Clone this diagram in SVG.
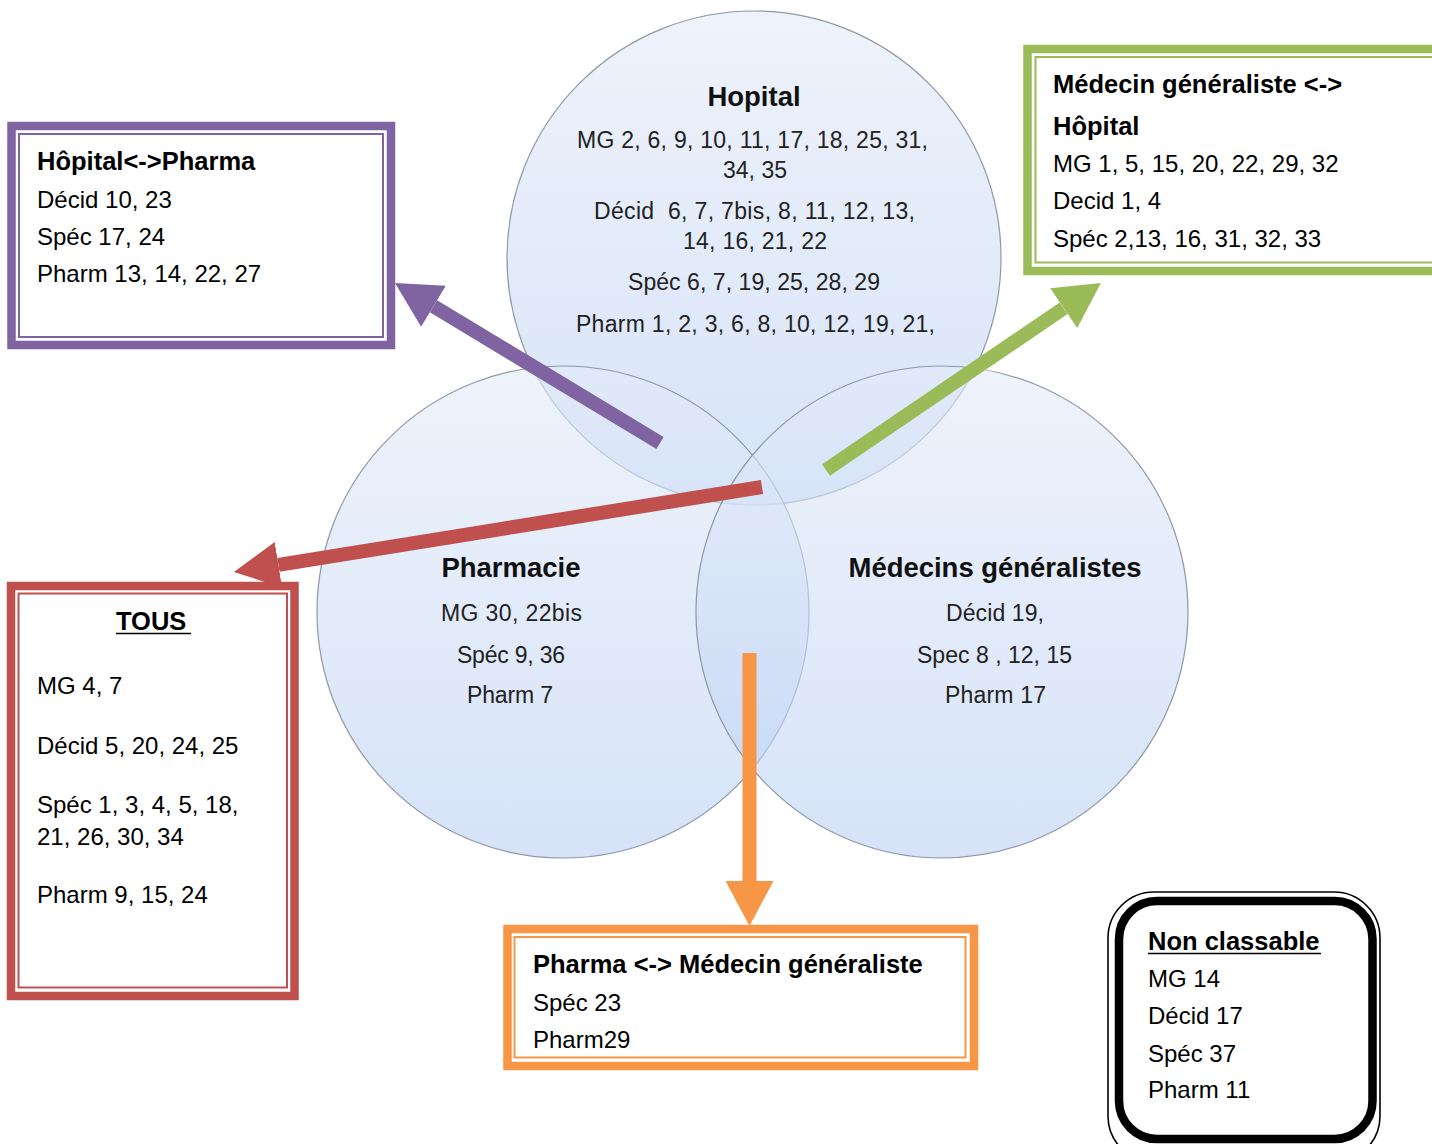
<svg xmlns="http://www.w3.org/2000/svg" width="1432" height="1144" viewBox="0 0 1432 1144">
<style>
.t{font-family:"Liberation Sans",Arial,sans-serif;font-size:24px;fill:#000}
.b{font-weight:bold;font-size:25.5px}
.ct{font-family:"Liberation Sans",Arial,sans-serif;font-size:23px;fill:#222;text-anchor:middle}
.ch{font-family:"Liberation Sans",Arial,sans-serif;font-size:27.5px;font-weight:bold;fill:#111;text-anchor:middle}
.circ{stroke:#8d99a6;stroke-width:1.2;fill:url(#cg);fill-opacity:0.6}
.band{fill:none;stroke-width:8.5}
.thin{fill:none;stroke-width:2}
.shaft{stroke-width:14;fill:none}
</style>
<defs>
<linearGradient id="cg" x1="0" y1="0" x2="0" y2="1">
<stop offset="0" stop-color="#e3ebf9"/>
<stop offset="1" stop-color="#bad0f3"/>
</linearGradient>
<marker id="hp" markerUnits="userSpaceOnUse" viewBox="0 -25 46 50" markerWidth="46" markerHeight="50" refX="0" refY="0" orient="auto"><path d="M0,-24 L45,0 L0,24 z" fill="#8064a2"/></marker>
<marker id="hg" markerUnits="userSpaceOnUse" viewBox="0 -25 46 50" markerWidth="46" markerHeight="50" refX="0" refY="0" orient="auto"><path d="M0,-24 L45,0 L0,24 z" fill="#9bbb59"/></marker>
<marker id="hr" markerUnits="userSpaceOnUse" viewBox="0 -25 46 50" markerWidth="46" markerHeight="50" refX="0" refY="0" orient="auto"><path d="M0,-23 L45,0 L0,23 z" fill="#c0504d"/></marker>
<marker id="ho" markerUnits="userSpaceOnUse" viewBox="0 -25 46 50" markerWidth="46" markerHeight="50" refX="0" refY="0" orient="auto"><path d="M0,-24 L45,0 L0,24 z" fill="#f79646"/></marker>
</defs>
<rect width="1432" height="1144" fill="#fff"/>

<g id="circle-hopital"><circle class="circ" cx="754" cy="258" r="247"/></g>
<g id="circle-pharmacie"><circle class="circ" cx="563" cy="612" r="246"/></g>
<g id="circle-medecins"><circle class="circ" cx="942" cy="612" r="246"/></g>

<g id="circle-hopital-text">
<text class="ch" x="754" y="106">Hopital</text>
<text class="ct" x="752.5" y="148" textLength="351" lengthAdjust="spacing">MG 2, 6, 9, 10, 11, 17, 18, 25, 31,</text>
<text class="ct" x="755" y="178" textLength="64" lengthAdjust="spacing">34, 35</text>
<text class="ct" x="754.5" y="219" textLength="321" lengthAdjust="spacing" xml:space="preserve">Décid  6, 7, 7bis, 8, 11, 12, 13,</text>
<text class="ct" x="755" y="249" textLength="144" lengthAdjust="spacing">14, 16, 21, 22</text>
<text class="ct" x="754" y="290" textLength="252" lengthAdjust="spacing">Spéc 6, 7, 19, 25, 28, 29</text>
<text class="ct" x="755.5" y="332" textLength="359" lengthAdjust="spacing">Pharm 1, 2, 3, 6, 8, 10, 12, 19, 21,</text>
</g>
<g id="circle-pharmacie-text">
<text class="ch" x="511" y="577">Pharmacie</text>
<text class="ct" x="511.5" y="621" textLength="141" lengthAdjust="spacing">MG 30, 22bis</text>
<text class="ct" x="511" y="663" textLength="108" lengthAdjust="spacing">Spéc 9, 36</text>
<text class="ct" x="510" y="703" textLength="86" lengthAdjust="spacing">Pharm 7</text>
</g>
<g id="circle-medecins-text">
<text class="ch" x="995" y="577" textLength="293" lengthAdjust="spacing">Médecins généralistes</text>
<text class="ct" x="995" y="621" textLength="98" lengthAdjust="spacing">Décid 19,</text>
<text class="ct" x="994.5" y="663" textLength="155" lengthAdjust="spacing">Spec 8 , 12, 15</text>
<text class="ct" x="995.5" y="703" textLength="101" lengthAdjust="spacing">Pharm 17</text>
</g>

<g id="connectors">
<line class="shaft" stroke="#8064a2" x1="660" y1="443" x2="433.5" y2="306.3" marker-end="url(#hp)"/>
<line class="shaft" stroke="#9bbb59" x1="826" y1="470" x2="1063.7" y2="308.2" marker-end="url(#hg)"/>
<line class="shaft" stroke="#c0504d" x1="762" y1="487" x2="278.4" y2="564.8" marker-end="url(#hr)"/>
<line class="shaft" stroke="#f79646" stroke-width="13" x1="749.5" y1="653" x2="749.5" y2="881" marker-end="url(#ho)"/>
</g>

<g id="box-hopital-pharma">
<rect x="19" y="134" width="364" height="203" fill="#fff"/>
<rect class="band" stroke="#8064a2" x="11.5" y="126" width="379.5" height="219"/>
<rect class="thin" stroke="#8064a2" x="19" y="134" width="364" height="203"/>
<text class="t b" x="37" y="170">Hôpital&lt;-&gt;Pharma</text>
<text class="t" x="37" y="208">Décid 10, 23</text>
<text class="t" x="37" y="245">Spéc 17, 24</text>
<text class="t" x="37" y="282">Pharm 13, 14, 22, 27</text>
</g>

<g id="box-medecin-hopital">
<rect x="1035" y="57" width="420" height="205" fill="#fff"/>
<rect class="band" stroke="#9bbb59" x="1027.5" y="49" width="430" height="222"/>
<rect class="thin" stroke="#9bbb59" x="1035.5" y="57" width="420" height="205.5"/>
<text class="t b" x="1053" y="93">Médecin généraliste &lt;-&gt;</text>
<text class="t b" x="1053" y="135">Hôpital</text>
<text class="t" x="1053" y="172">MG 1, 5, 15, 20, 22, 29, 32</text>
<text class="t" x="1053" y="209">Decid 1, 4</text>
<text class="t" x="1053" y="247">Spéc 2,13, 16, 31, 32, 33</text>
</g>

<g id="box-tous">
<rect x="18.5" y="593.5" width="268.5" height="394" fill="#fff"/>
<rect class="band" stroke="#c0504d" x="11" y="586" width="283.5" height="410"/>
<rect class="thin" stroke="#c0504d" x="18.5" y="593.5" width="268.5" height="394"/>
<text class="t b" x="116" y="630">TOUS</text>
<line x1="116" y1="633.5" x2="191" y2="633.5" stroke="#000" stroke-width="1.6"/>
<text class="t" x="37" y="694">MG 4, 7</text>
<text class="t" x="37" y="754">Décid 5, 20, 24, 25</text>
<text class="t" x="37" y="813">Spéc 1, 3, 4, 5, 18,</text>
<text class="t" x="37" y="845">21, 26, 30, 34</text>
<text class="t" x="37" y="903">Pharm 9, 15, 24</text>
</g>

<g id="box-pharma-medecin">
<rect x="514.5" y="937" width="451" height="120.5" fill="#fff"/>
<rect class="band" stroke="#f79646" x="507.5" y="929" width="466.5" height="137"/>
<rect class="thin" stroke="#f79646" x="514.5" y="937" width="451" height="120.5"/>
<text class="t b" x="533" y="973">Pharma &lt;-&gt; Médecin généraliste</text>
<text class="t" x="533" y="1011">Spéc 23</text>
<text class="t" x="533" y="1048">Pharm29</text>
</g>

<g id="box-non-classable">
<rect x="1108" y="892" width="272" height="270" rx="46" ry="46" fill="#fff" stroke="#000" stroke-width="1.6"/>
<rect x="1119" y="901" width="253.5" height="238" rx="38" ry="38" fill="#fff" stroke="#000" stroke-width="8.5"/>
<text class="t b" x="1148" y="950">Non classable</text>
<line x1="1148" y1="953.5" x2="1321" y2="953.5" stroke="#000" stroke-width="1.6"/>
<text class="t" x="1148" y="987">MG 14</text>
<text class="t" x="1148" y="1024">Décid 17</text>
<text class="t" x="1148" y="1062">Spéc 37</text>
<text class="t" x="1148" y="1098">Pharm 11</text>
</g>
</svg>
